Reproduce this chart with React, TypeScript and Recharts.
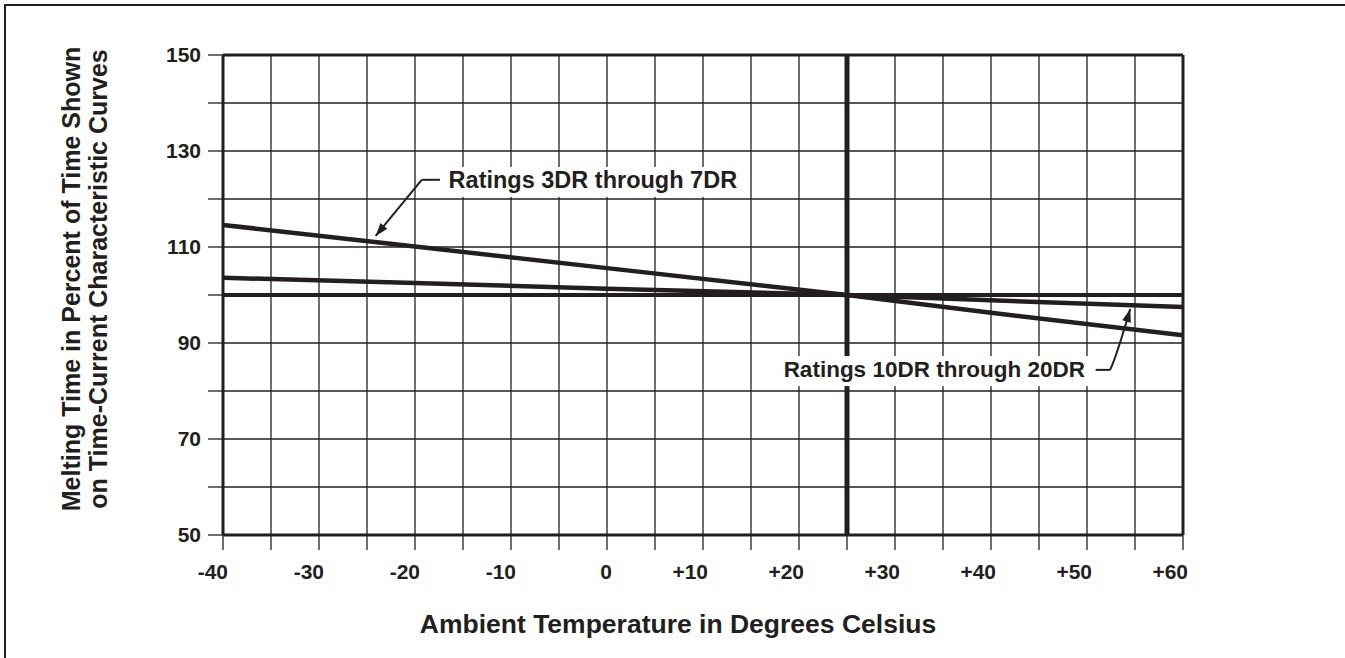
import React from "react";
import {
  LineChart,
  Line,
  XAxis,
  YAxis,
  CartesianGrid,
  ReferenceLine,
  ReferenceDot,
  Label,
} from "recharts";

// values (melting time % vs ambient temperature)
const temperatures = [-40, -20, 0, 25, 40, 60];
const ratings3to7 = [114.6, 110.1, 105.6, 100, 96.3, 91.6];
const ratings10to20 = [103.6, 102.5, 101.3, 100, 98.9, 97.5];
const flatCurve = [100, 100, 100, 100, 100, 100];

const xTicks = [
  -40, -35, -30, -25, -20, -15, -10, -5, 0, 5, 10, 15, 20, 25, 30, 35, 40, 45,
  50, 55, 60,
];
const yTicks = [50, 60, 70, 80, 90, 100, 110, 120, 130, 140, 150];

const xTitle = "Ambient Temperature in Degrees Celsius";
const yTitleLines = [
  "Melting Time in Percent of Time Shown",
  "on Time-Current Characteristic Curves",
];
const label3to7 = "Ratings 3DR through 7DR";
const label10to20 = "Ratings 10DR through 20DR";

const INK = "#231f20";
const FONT = '"Liberation Sans", Arial, Helvetica, sans-serif';

const data = temperatures.map((t, i) => ({
  temp: t,
  r3to7: ratings3to7[i],
  r10to20: ratings10to20[i],
  flat: flatCurve[i],
}));

const formatTemp = (v: number) => (v > 0 ? `+${v}` : `${v}`);

const XTick = (props: any) => {
  const { x, y, payload } = props;
  if (payload.value % 10 !== 0) return <g />;
  return (
    <text
      x={x + 5}
      y={y}
      dy="0.71em"
      textAnchor="end"
      fontSize={21}
      fontWeight={700}
      fill={INK}
      fontFamily={FONT}
    >
      {formatTemp(payload.value)}
    </text>
  );
};

const arrowHead = (fx: number, fy: number, tx: number, ty: number) => {
  const ang = Math.atan2(ty - fy, tx - fx);
  const len = 13;
  const half = 4.5;
  const bx = tx - len * Math.cos(ang);
  const by = ty - len * Math.sin(ang);
  const px = -Math.sin(ang) * half;
  const py = Math.cos(ang) * half;
  return `M${tx},${ty} L${bx + px},${by + py} L${bx - px},${by - py} Z`;
};

const StraightArrow = (props: any) => {
  const { x1, y1, x2, y2 } = props;
  return (
    <g>
      <line x1={x1} y1={y1} x2={x2} y2={y2} stroke={INK} strokeWidth={2} />
      <path d={arrowHead(x1, y1, x2, y2)} fill={INK} />
    </g>
  );
};

const CurvedArrow = (props: any) => {
  const { x1, y1, x2, y2 } = props;
  const cx = x1 + (x2 - x1) * 0.3;
  const cy = y1 - (y1 - y2) * 0.2;
  return (
    <g>
      <path
        d={`M${x1},${y1} Q${cx},${cy} ${x2},${y2}`}
        fill="none"
        stroke={INK}
        strokeWidth={2}
      />
      <path d={arrowHead(cx, cy, x2, y2)} fill={INK} />
    </g>
  );
};

const PlainSegment = (props: any) => {
  const { x1, y1, x2, y2 } = props;
  return <line x1={x1} y1={y1} x2={x2} y2={y2} stroke={INK} strokeWidth={2} />;
};

const boxedText =
  (text: string, boxWidth: number, size: number) => (props: any) => {
    const { cx, cy } = props;
    return (
      <g>
        <rect x={cx - 5} y={cy - 21} width={boxWidth} height={30} fill="#fff" />
        <text
          x={cx}
          y={cy}
          fontSize={size}
          fontWeight={700}
          fill={INK}
          fontFamily={FONT}
        >
          {text}
        </text>
      </g>
    );
  };

const YTitle = () => (
  <g fontFamily={FONT} fontSize={25} fontWeight={700} fill={INK}>
    <text transform="translate(80,279) rotate(-90)" textAnchor="middle">
      {yTitleLines[0]}
    </text>
    <text transform="translate(107,279) rotate(-90)" textAnchor="middle">
      {yTitleLines[1]}
    </text>
  </g>
);

const XTitle = () => (
  <text
    x={678}
    y={633}
    textAnchor="middle"
    fontFamily={FONT}
    fontSize={26.5}
    fontWeight={700}
    fill={INK}
  >
    {xTitle}
  </text>
);

export default function App() {
  return (
    <div
      style={{
        position: "absolute",
        left: 0,
        top: 0,
        width: 1345,
        height: 658,
        overflow: "hidden",
        background: "#fff",
      }}
    >
      <div
        style={{
          position: "absolute",
          left: 4,
          top: 4,
          width: 1400,
          height: 700,
          borderTop: `2px solid ${INK}`,
          borderLeft: `2px solid ${INK}`,
        }}
      />
      <div style={{ position: "absolute", left: 0, top: 0 }}>
        <LineChart
          width={1345}
          height={658}
          data={data}
          margin={{ top: 55, right: 162, left: 143, bottom: 63 }}
          style={{ fontFamily: FONT }}
        >
          <CartesianGrid stroke={INK} strokeWidth={1.3} />
          <XAxis
            dataKey="temp"
            type="number"
            domain={[-40, 60]}
            ticks={xTicks}
            interval={0}
            height={60}
            tickSize={15}
            tickMargin={14}
            tick={<XTick />}
            tickLine={{ stroke: INK, strokeWidth: 1.3 }}
            axisLine={{ stroke: INK, strokeWidth: 3 }}
          >
            <Label content={<XTitle />} />
          </XAxis>
          <YAxis
            type="number"
            domain={[50, 150]}
            ticks={yTicks}
            interval={0}
            width={80}
            tickSize={15}
            tickMargin={7}
            tickFormatter={(v: number) => ((v - 50) % 20 === 0 ? `${v}` : "")}
            tick={{ fontSize: 21, fontWeight: 700, fill: INK, fontFamily: FONT }}
            tickLine={{ stroke: INK, strokeWidth: 1.3 }}
            axisLine={{ stroke: INK, strokeWidth: 3 }}
          >
            <Label content={<YTitle />} />
          </YAxis>
          <ReferenceLine y={150} stroke={INK} strokeWidth={3} />
          <ReferenceLine x={60} stroke={INK} strokeWidth={3} />
          <Line
            dataKey="flat"
            stroke={INK}
            strokeWidth={4}
            dot={false}
            isAnimationActive={false}
          />
          <Line
            dataKey="r10to20"
            stroke={INK}
            strokeWidth={4.5}
            dot={false}
            isAnimationActive={false}
          />
          <Line
            dataKey="r3to7"
            stroke={INK}
            strokeWidth={4.5}
            dot={false}
            isAnimationActive={false}
          />
          <ReferenceLine x={25} stroke={INK} strokeWidth={5} zIndex={450} />
          <ReferenceDot
            x={-16.5}
            y={122.3}
            r={0}
            shape={boxedText(label3to7, 302, 23.5)}
            zIndex={600}
          />
          <ReferenceDot
            x={18.4}
            y={82.9}
            r={0}
            shape={boxedText(label10to20, 311, 22.5)}
            zIndex={600}
          />
          <ReferenceLine
            segment={[
              { x: -17.4, y: 124 },
              { x: -19.3, y: 124 },
            ]}
            shape={<PlainSegment />}
            zIndex={650}
          />
          <ReferenceLine
            segment={[
              { x: -19.3, y: 124 },
              { x: -24.1, y: 112.3 },
            ]}
            shape={<StraightArrow />}
            zIndex={650}
          />
          <ReferenceLine
            segment={[
              { x: 50.9, y: 84.4 },
              { x: 52.4, y: 84.4 },
            ]}
            shape={<PlainSegment />}
            zIndex={650}
          />
          <ReferenceLine
            segment={[
              { x: 52.4, y: 84.4 },
              { x: 54.5, y: 97.1 },
            ]}
            shape={<CurvedArrow />}
            zIndex={650}
          />
        </LineChart>
      </div>
    </div>
  );
}
